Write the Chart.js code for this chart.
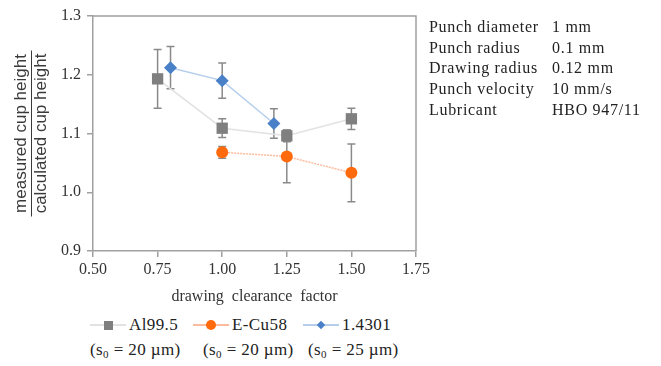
<!DOCTYPE html>
<html>
<head>
<meta charset="utf-8">
<script src="https://cdn.jsdelivr.net/npm/chart.js@4/dist/chart.umd.min.js"></script>
<style>
    body { margin: 0; background: #fff; width: 661px; height: 366px; position: relative; overflow: hidden; font-family: "Liberation Serif", "Times New Roman", serif; color: #222; }
    #chartBox { position: absolute; left: 0; top: 0; width: 440px; height: 310px; }
    #params { position: absolute; left: 429px; top: 17px; font-size: 16px; line-height: 20.7px; letter-spacing: 0.7px; }
    #params td { padding: 0; white-space: nowrap; }
    .legRow { position: absolute; font-size: 17px; line-height: 24px; letter-spacing: 0.4px; white-space: nowrap; color: #222; }
    .legSym { display: inline-block; position: relative; width: 36px; height: 12px; vertical-align: middle; margin-right: 3px; top: -1px; }
    .legSym .ln { position: absolute; left: 0; right: 0; top: 5px; height: 1.5px; }
    .legSym .mk { position: absolute; left: 50%; top: 6px; }
    sub { font-size: 11px; vertical-align: -3px; line-height: 0; }
</style>
</head>
<body>
<div id="chartBox"><canvas id="chart"></canvas></div>

<table id="params" cellspacing="0">
    <tr><td style="width:123px">Punch diameter</td><td>1 mm</td></tr>
    <tr><td>Punch radius</td><td>0.1 mm</td></tr>
    <tr><td>Drawing radius</td><td>0.12 mm</td></tr>
    <tr><td>Punch velocity</td><td>10 mm/s</td></tr>
    <tr><td>Lubricant</td><td>HBO 947/11</td></tr>
</table>

<div id="legend"></div>

<script>
// series values
const alX = [0.75, 1.00, 1.25, 1.50];
const alY = [1.193, 1.109, 1.096, 1.125];
const alErr = [0.050, 0.016, 0.010, 0.018];

const cuX = [1.00, 1.25, 1.50];
const cuY = [1.068, 1.061, 1.033];
const cuErr = [0.010, 0.045, 0.049];

const stX = [0.80, 1.00, 1.20];
const stY = [1.212, 1.190, 1.117];
const stErr = [0.036, 0.030, 0.025];

const seriesNames = ["Al99.5", "E-Cu58", "1.4301"];
const seriesThickness = ["20", "20", "25"];

const xTicks = [0.50, 0.75, 1.00, 1.25, 1.50, 1.75];
const yTicks = [0.9, 1.0, 1.1, 1.2, 1.3];

const serif = "'Liberation Serif', 'Times New Roman', serif";

function toPoints(xs, ys) {
    return xs.map((x, i) => ({x: x, y: ys[i]}));
}

// error bars drawn through the scales, behind the markers
const errorBars = {
    id: "errorBars",
    beforeDatasetsDraw(chart) {
        const ctx = chart.ctx;
        const xs = chart.scales.x, ys = chart.scales.y;
        ctx.save();
        ctx.strokeStyle = "#8a8a8a";
        ctx.lineWidth = 1.5;
        chart.data.datasets.forEach(ds => {
            ds.data.forEach((p, i) => {
                const px = xs.getPixelForValue(p.x);
                const top = ys.getPixelForValue(p.y + ds.err[i]);
                const bot = ys.getPixelForValue(p.y - ds.err[i]);
                ctx.beginPath();
                ctx.moveTo(px, top); ctx.lineTo(px, bot);
                ctx.moveTo(px - 4, top); ctx.lineTo(px + 4, top);
                ctx.moveTo(px - 4, bot); ctx.lineTo(px + 4, bot);
                ctx.stroke();
            });
        });
        ctx.restore();
    }
};

// box around the plot and the fraction as y title
const frameAndTitle = {
    id: "frameAndTitle",
    afterDraw(chart) {
        const ctx = chart.ctx;
        const a = chart.chartArea;
        ctx.save();
        ctx.strokeStyle = "#a0a0a0";
        ctx.lineWidth = 1.5;
        ctx.beginPath();
        ctx.moveTo(a.left, a.top); ctx.lineTo(a.right, a.top); ctx.lineTo(a.right, a.bottom);
        ctx.stroke();

        const cy = (a.top + a.bottom) / 2;
        ctx.translate(31.5, cy);
        ctx.rotate(-Math.PI / 2);
        ctx.fillStyle = "#3a3a3a";
        ctx.font = "17px 'Liberation Sans', Arial, sans-serif";
        ctx.textAlign = "center";
        ctx.textBaseline = "middle";
        ctx.fillText("measured cup height", 0, -10);
        ctx.fillText("calculated cup height", 0, 10);
        ctx.strokeStyle = "#3a3a3a";
        ctx.lineWidth = 1;
        ctx.beginPath();
        ctx.moveTo(-83, 0); ctx.lineTo(83, 0);
        ctx.stroke();
        ctx.restore();
    }
};

const datasets = [
    {
        label: seriesNames[0],
        data: toPoints(alX, alY),
        err: alErr,
        borderColor: "#e2e2e2",
        borderWidth: 1.5,
        pointStyle: "rect",
        pointRadius: 8,
        pointBackgroundColor: "#7f7f7f",
        pointBorderColor: "#7f7f7f",
        pointBorderWidth: 0
    },
    {
        label: seriesNames[1],
        data: toPoints(cuX, cuY),
        err: cuErr,
        borderColor: "rgba(250, 120, 60, 0.5)",
        borderWidth: 1.5,
        borderDash: [2, 1],
        pointStyle: "circle",
        pointRadius: 6,
        pointBackgroundColor: "#ff6a0d",
        pointBorderColor: "#ff6a0d",
        pointBorderWidth: 0
    },
    {
        label: seriesNames[2],
        data: toPoints(stX, stY),
        err: stErr,
        borderColor: "rgba(120, 165, 220, 0.55)",
        borderWidth: 1.5,
        pointStyle: "rectRot",
        pointRadius: 6.5,
        pointBackgroundColor: "#4a80c8",
        pointBorderColor: "#4a80c8",
        pointBorderWidth: 0
    }
];

new Chart(document.getElementById("chart").getContext("2d"), {
    type: "line",
    data: {datasets: datasets},
    options: {
        responsive: true,
        maintainAspectRatio: false,
        animation: false,
        layout: {padding: {top: 16, right: 24, left: 0, bottom: 0}},
        plugins: {legend: {display: false}, tooltip: {enabled: false}},
        scales: {
            x: {
                type: "linear",
                min: xTicks[0],
                max: xTicks[xTicks.length - 1],
                afterBuildTicks: s => { s.ticks = xTicks.map(v => ({value: v})); },
                afterFit: s => { s.height = 59; },
                ticks: {
                    callback: v => v.toFixed(2),
                    font: {family: serif, size: 16},
                    color: "#333",
                    padding: 3,
                    maxRotation: 0
                },
                grid: {drawOnChartArea: false, drawTicks: true, tickLength: 6, color: "#a0a0a0", lineWidth: 1.5},
                border: {color: "#a0a0a0", width: 1.5},
                title: {display: true, text: "drawing  clearance  factor", font: {family: serif, size: 16}, color: "#333"}
            },
            y: {
                min: yTicks[0],
                max: yTicks[yTicks.length - 1],
                afterBuildTicks: s => { s.ticks = yTicks.map(v => ({value: v})); },
                afterFit: s => { s.width = 93; },
                ticks: {
                    callback: v => v.toFixed(1),
                    font: {family: serif, size: 16},
                    color: "#333",
                    padding: 6
                },
                grid: {drawOnChartArea: false, drawTicks: true, tickLength: 6, color: "#a0a0a0", lineWidth: 1.5},
                border: {color: "#a0a0a0", width: 1.5}
            }
        }
    },
    plugins: [errorBars, frameAndTitle]
});

// legend below the chart, two rows per entry
const legendRow1 = [90, 193, 303];
const legendRow2 = [90, 203, 308];
const legendBox = document.getElementById("legend");
datasets.forEach((ds, i) => {
    let mk;
    if (ds.pointStyle === "rect") {
        mk = `<span class="mk" style="width:9px;height:9px;margin:-4.5px 0 0 -4.5px;background:${ds.pointBackgroundColor}"></span>`;
    } else if (ds.pointStyle === "circle") {
        mk = `<span class="mk" style="width:10px;height:10px;margin:-5px 0 0 -5px;border-radius:50%;background:${ds.pointBackgroundColor}"></span>`;
    } else {
        mk = `<span class="mk" style="width:6px;height:6px;margin:-3px 0 0 -3px;transform:rotate(45deg);background:${ds.pointBackgroundColor}"></span>`;
    }
    const r1 = document.createElement("div");
    r1.className = "legRow";
    r1.style.left = legendRow1[i] + "px";
    r1.style.top = "313px";
    r1.innerHTML = `<span class="legSym"><span class="ln" style="background:${ds.borderColor}"></span>${mk}</span>${seriesNames[i]}`;
    legendBox.appendChild(r1);

    const r2 = document.createElement("div");
    r2.className = "legRow";
    r2.style.left = legendRow2[i] + "px";
    r2.style.top = "338px";
    r2.innerHTML = `(s<sub>0</sub> = ${seriesThickness[i]} µm)`;
    legendBox.appendChild(r2);
});
</script>
</body>
</html>
